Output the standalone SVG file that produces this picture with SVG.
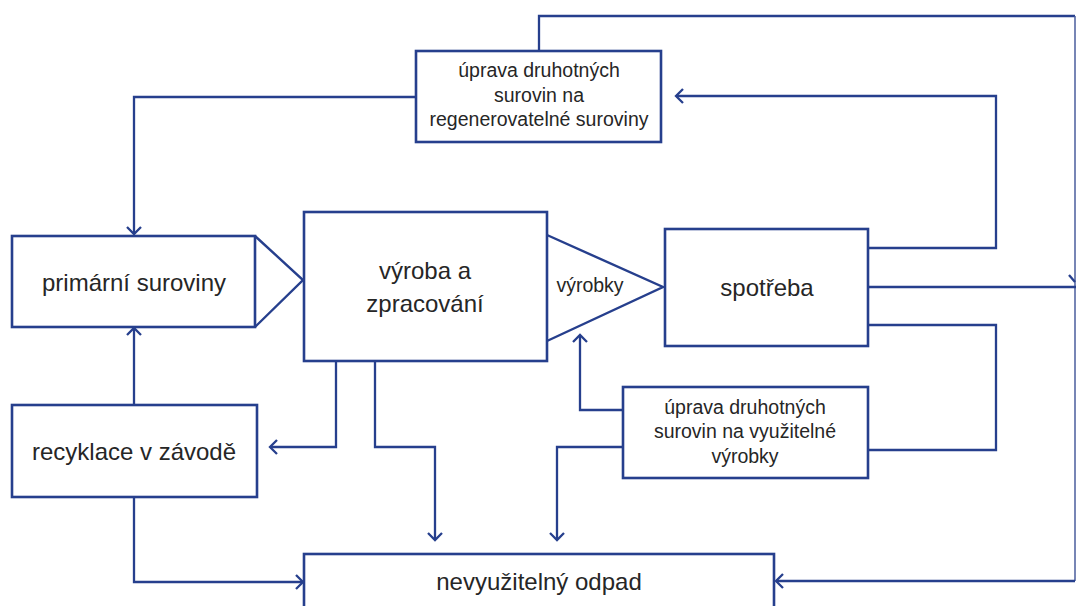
<svg xmlns="http://www.w3.org/2000/svg" width="1076" height="606" viewBox="0 0 1076 606">
  <style>
    .box { fill: #ffffff; stroke: #263f8d; stroke-width: 2.6; }
    .tri { fill: #ffffff; stroke: #263f8d; stroke-width: 2.4; stroke-linejoin: miter; }
    .line { fill: none; stroke: #263f8d; stroke-width: 2.3; }
    .thin { fill: none; stroke: #4a5c9c; stroke-width: 1.5; }
    .big { font-family: "Liberation Sans", Arial, sans-serif; font-size: 24px; fill: #262626; text-anchor: middle; }
    .small { font-family: "Liberation Sans", Arial, sans-serif; font-size: 19.5px; fill: #262626; text-anchor: middle; }
  </style>
  <defs>
    <marker id="ah" viewBox="-9 -9 11 18" refX="0" refY="0" markerWidth="11" markerHeight="18" markerUnits="userSpaceOnUse" orient="auto">
      <path d="M-7,-7 L0,0 L-7,7" fill="none" stroke="#263f8d" stroke-width="2.3"/>
    </marker>
  </defs>
  <rect width="1076" height="606" fill="#ffffff"/>

  <!-- connectors -->
  <g id="connectors">
    <path class="line" d="M539,51 V16 H1075"/>
    <path class="thin" d="M1075,16 V581"/>
    <path class="line" d="M1075,581 H776" marker-end="url(#ah)"/>
    <path class="line" d="M416,97 H134 V234" marker-end="url(#ah)"/>
    <path class="line" d="M868,248 H996 V96 H676" marker-end="url(#ah)"/>
    <path class="line" d="M868,287 H1076"/>
    <path class="line" d="M1069,275 L1075,282"/>
    <path class="line" d="M868,325 H996 V450 H868"/>
    <path class="line" d="M623,410 H580 V335" marker-end="url(#ah)"/>
    <path class="line" d="M623,447 H557 V540" marker-end="url(#ah)"/>
    <path class="line" d="M336,361 V447 H270" marker-end="url(#ah)"/>
    <path class="line" d="M375,361 V447 H435 V540" marker-end="url(#ah)"/>
    <path class="line" d="M134,405 V328" marker-end="url(#ah)"/>
    <path class="line" d="M134,497 V582 H303" marker-end="url(#ah)"/>
  </g>

  <g id="uprava-regenerovatelne">
    <rect class="box" x="416" y="51" width="245" height="91"/>
    <text class="small" x="539" y="77">úprava druhotných</text>
    <text class="small" x="539" y="102">surovin na</text>
    <text class="small" x="539" y="126">regenerovatelné suroviny</text>
  </g>

  <!-- arrow-shaped box: pointer drawn first so the box edge stays whole -->
  <g id="primarni-suroviny">
    <polyline class="tri" points="255,236 303,280 255,327"/>
    <rect class="box" x="12" y="236" width="243" height="91"/>
    <text class="big" x="134" y="291">primární suroviny</text>
  </g>

  <g id="vyrobky">
    <polyline class="tri" points="547,235 663,287 547,341"/>
    <text class="small" x="590" y="292">výrobky</text>
  </g>

  <g id="vyroba">
    <rect class="box" x="304" y="212" width="243" height="149"/>
    <text class="big" x="425" y="279">výroba a</text>
    <text class="big" x="425" y="312">zpracování</text>
  </g>

  <g id="spotreba">
    <rect class="box" x="665" y="229" width="203" height="117"/>
    <text class="big" x="767" y="296">spotřeba</text>
  </g>

  <g id="uprava-vyuzitelne">
    <rect class="box" x="623" y="387" width="245" height="91"/>
    <text class="small" x="745" y="414">úprava druhotných</text>
    <text class="small" x="745" y="438">surovin na využitelné</text>
    <text class="small" x="745" y="463">výrobky</text>
  </g>

  <g id="recyklace">
    <rect class="box" x="12" y="405" width="245" height="92"/>
    <text class="big" x="134" y="460">recyklace v závodě</text>
  </g>

  <g id="odpad">
    <rect class="box" x="304" y="554" width="470" height="80"/>
    <text class="big" x="539" y="590">nevyužitelný odpad</text>
  </g>
</svg>
